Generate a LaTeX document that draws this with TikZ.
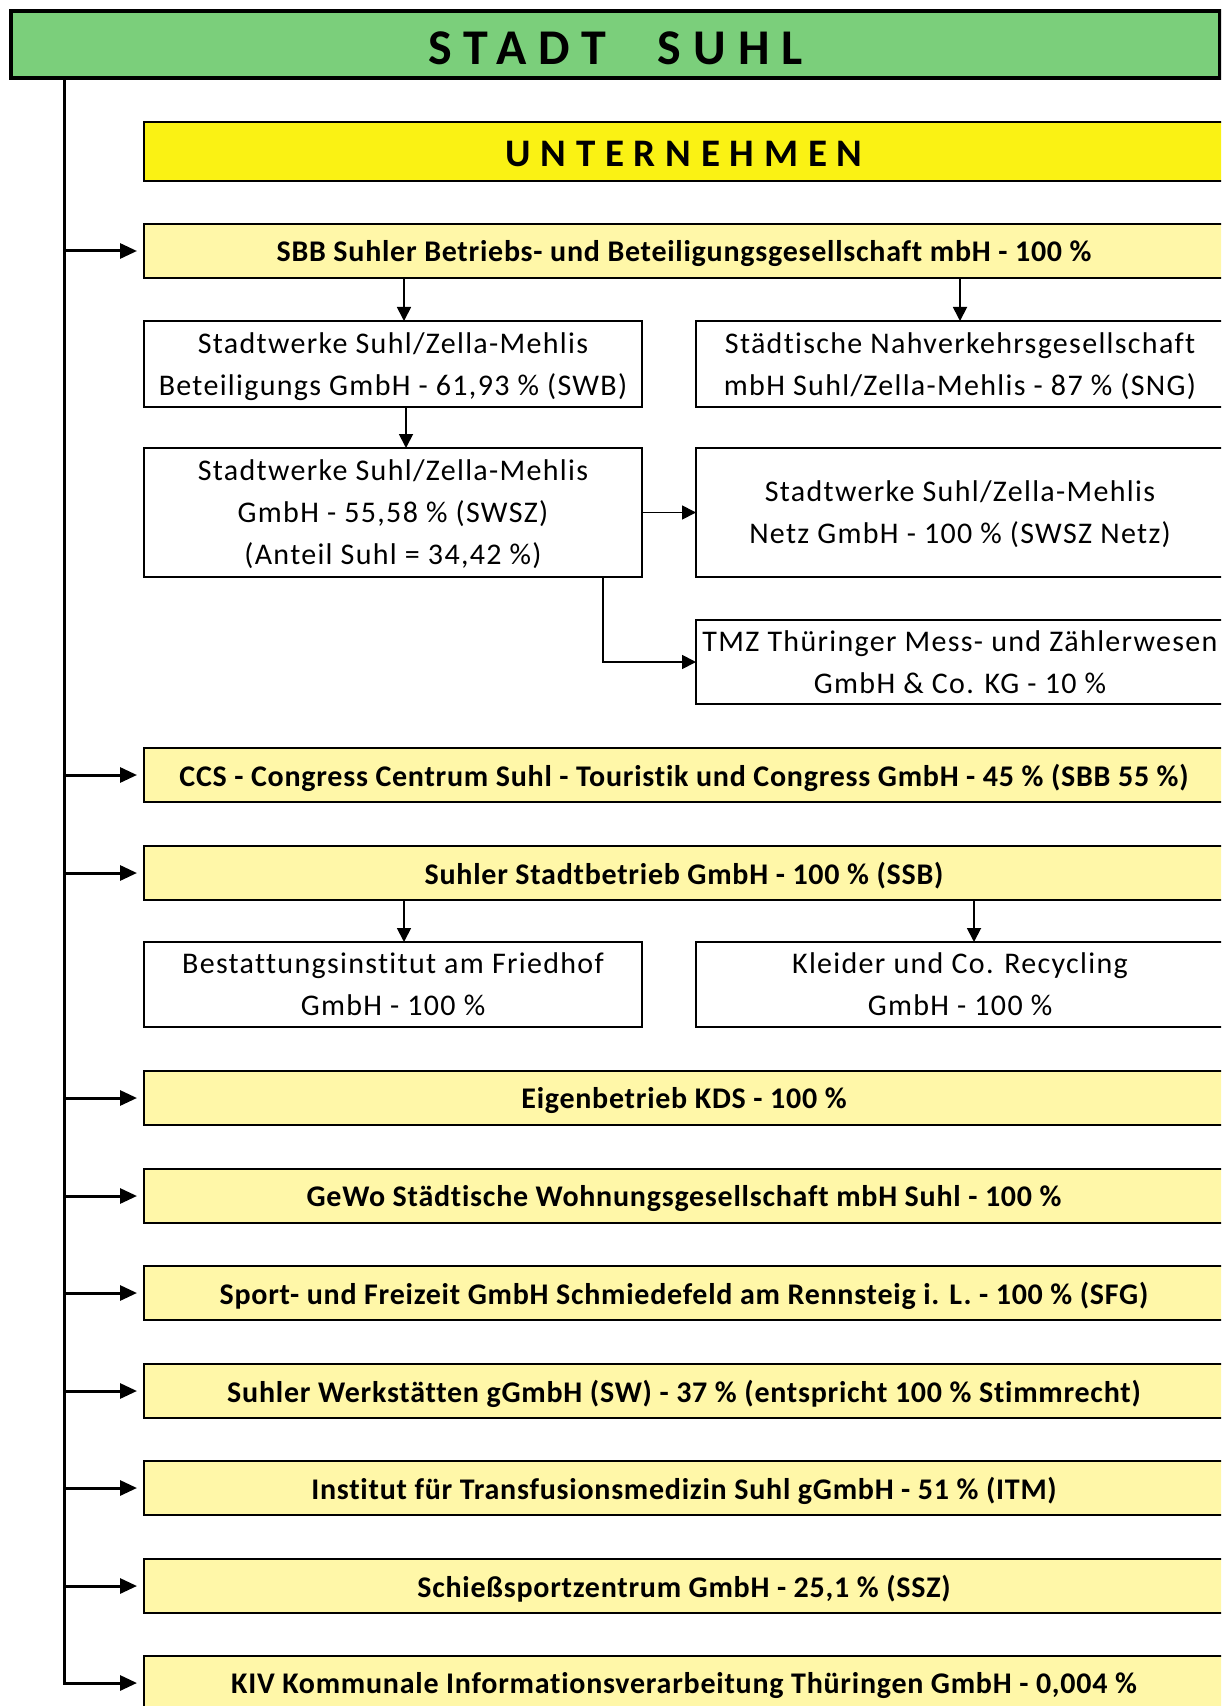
\documentclass[tikz,border=0pt]{standalone}
\usepackage{fontspec}
\setmainfont{Carlito}[RawFeature=-liga]
\usetikzlibrary{arrows.meta}
\definecolor{stadtgreen}{RGB}{123,207,123}
\definecolor{untyellow}{RGB}{250,242,20}
\definecolor{boxyellow}{RGB}{255,247,168}
\newcommand{\regtext}{\fontsize{15}{21}\selectfont\addfontfeature{LetterSpace=4.4}}
\newcommand{\boldtext}{\fontsize{15}{21}\selectfont\bfseries\addfontfeature{LetterSpace=2.5}}
\begin{document}
\begin{tikzpicture}[x=0.5pt,y=-0.5pt,
  every node/.style={inner sep=0pt, outer sep=0pt},
  titlebox/.style={draw, line width=2pt, fill=stadtgreen, anchor=north west,
    minimum width=604.5pt, minimum height=33.5pt},
  headbox/.style={draw, line width=1pt, fill=untyellow, anchor=north west,
    minimum width=540pt, minimum height=29.5pt},
  mainbox/.style={draw, line width=1pt, fill=boxyellow, anchor=north west,
    minimum width=540pt, minimum height=27pt, font=\boldtext, text depth=0pt},
  leftbox/.style={draw, line width=1pt, fill=white, anchor=north west,
    minimum width=249pt, align=center, font=\regtext, text depth=0pt},
  rightbox/.style={draw, line width=1pt, fill=white, anchor=north west,
    minimum width=264pt, align=center, font=\regtext, text depth=0pt},
  trunk/.style={line width=1.5pt, -{Triangle[length=8.5pt,width=7.5pt]}},
  mainarrow/.style={line width=1.5pt, -{Triangle[length=8.5pt,width=7.5pt]}},
  subarrow/.style={line width=0.9pt, -{Triangle[length=7pt,width=7pt]}}
]
\path[use as bounding box, clip] (0,0) rectangle (1221,1706);
\fill[white] (0,0) rectangle (1221,1706);

% title boxes
\node[titlebox] (stadt) at (11,11) {};
\node[yshift=-1.75pt] (stadttext) at (stadt.center) {\fontsize{25}{30}\selectfont\bfseries\addfontfeature{LetterSpace=24}STADT\hspace{26pt}SUHL};
\node[headbox] (unt) at (144,122) {};
\node[yshift=-1.5pt] (unttext) at (unt.center) {\fontsize{19.5}{24}\selectfont\bfseries\addfontfeature{LetterSpace=25}UNTERNEHMEN};

% main companies
\node[mainbox] (sbb) at (144,224) {SBB Suhler Betriebs- und Beteiligungsgesellschaft mbH - 100 \%};
\node[leftbox, minimum height=43pt] (swb) at (144,321) {Stadtwerke Suhl/Zella-Mehlis\\Beteiligungs GmbH - 61,93 \% (SWB)};
\node[rightbox, minimum height=43pt] (sng) at (696,321) {Städtische Nahverkehrsgesellschaft\\mbH Suhl/Zella-Mehlis - 87 \% (SNG)};
\node[leftbox, minimum height=64.5pt] (swsz) at (144,448) {Stadtwerke Suhl/Zella-Mehlis\\GmbH - 55,58 \% (SWSZ)\\(Anteil Suhl = 34,42 \%)};
\node[rightbox, minimum height=64.5pt] (netz) at (696,448) {Stadtwerke Suhl/Zella-Mehlis\\Netz GmbH - 100 \% (SWSZ Netz)};
\node[rightbox, minimum height=42pt] (tmz) at (696,620) {TMZ Thüringer Mess- und Zählerwesen\\GmbH \& Co. KG - 10 \%};

\node[mainbox] (ccs) at (144,748) {CCS - Congress Centrum Suhl - Touristik und Congress GmbH - 45 \% (SBB 55 \%)};
\node[mainbox] (ssb) at (144,846) {Suhler Stadtbetrieb GmbH - 100 \% (SSB)};
\node[leftbox, minimum height=42.5pt] (best) at (144,942) {Bestattungsinstitut am Friedhof\\GmbH - 100 \%};
\node[rightbox, minimum height=42.5pt] (kleid) at (696,942) {Kleider und Co. Recycling\\GmbH - 100 \%};

\node[mainbox] (kds) at (144,1071) {Eigenbetrieb KDS - 100 \%};
\node[mainbox] (gewo) at (144,1169) {GeWo Städtische Wohnungsgesellschaft mbH Suhl - 100 \%};
\node[mainbox] (sfg) at (144,1266) {Sport- und Freizeit GmbH Schmiedefeld am Rennsteig i. L. - 100 \% (SFG)};
\node[mainbox] (sw) at (144,1364) {Suhler Werkstätten gGmbH (SW) - 37 \% (entspricht 100 \% Stimmrecht)};
\node[mainbox] (itm) at (144,1461) {Institut für Transfusionsmedizin Suhl gGmbH - 51 \% (ITM)};
\node[mainbox] (ssz) at (144,1559) {Schießsportzentrum GmbH - 25,1 \% (SSZ)};
\node[mainbox] (kiv) at (144,1656) {KIV Kommunale Informationsverarbeitung Thüringen GmbH - 0,004 \%};

% trunk
\coordinate (trunktop) at (64,78);
\draw[trunk] (trunktop) |- ([xshift=-3.5pt]kiv.west);
\foreach \n in {sbb,ccs,ssb,kds,gewo,sfg,sw,itm,ssz}{
  \draw[mainarrow] (trunktop |- \n.west) -- ([xshift=-3.5pt]\n.west);
}

% sub connectors
\draw[subarrow] ([xshift=5.5pt]swb.north |- sbb.south) -- ([xshift=5.5pt]swb.north);
\draw[subarrow] (sng.north |- sbb.south) -- (sng.north);
\draw[subarrow] ([xshift=6.5pt]swb.south) -- ([xshift=6.5pt]swsz.north);
\draw[subarrow] (swsz.east) -- (netz.west |- swsz.east);
\draw[subarrow] ([xshift=-19.5pt]swsz.south east) |- (tmz.west);
\draw[subarrow] ([xshift=5.5pt]best.north |- ssb.south) -- ([xshift=5.5pt]best.north);
\draw[subarrow] ([xshift=7pt]kleid.north |- ssb.south) -- ([xshift=7pt]kleid.north);
\end{tikzpicture}
\end{document}
